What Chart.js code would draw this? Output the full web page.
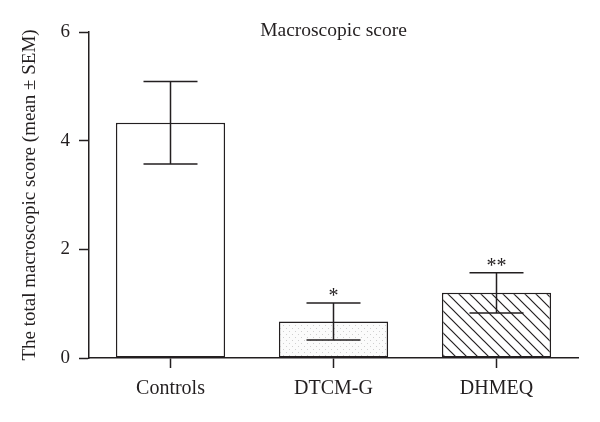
<!DOCTYPE html>
<html>
<head>
<meta charset="utf-8">
<script src="https://cdn.jsdelivr.net/npm/chart.js@4"></script>
<style>
  html, body { margin: 0; padding: 0; background: #fff; }
  #wrap { width: 600px; height: 422px; }
</style>
</head>
<body>
<div id="wrap"><canvas id="chart" width="600" height="422"></canvas></div>
<script>
// data
const groups = ['Controls', 'DTCM-G', 'DHMEQ'];
const meanScore = [4.33, 0.67, 1.2];
const semScore = [0.76, 0.34, 0.37];
const stars = ['', '*', '**'];
const yTicks = [0, 2, 4, 6];

const ink = '#231f20';
const serif = '"Liberation Serif", "DejaVu Serif", serif';

// light dotted fill
function dotPattern() {
    let c = document.createElement('canvas');
    c.width = 6; c.height = 6;
    let g = c.getContext('2d');
    g.fillStyle = '#fbfbfb';
    g.fillRect(0, 0, 6, 6);
    g.fillStyle = '#cfcfcf';
    g.fillRect(1, 1, 1, 1);
    g.fillRect(4, 4, 1, 1);
    return g.createPattern(c, 'repeat');
}

// diagonal hatching "\\\"
function hatchPattern() {
    let s = 11;
    let c = document.createElement('canvas');
    c.width = s; c.height = s;
    let g = c.getContext('2d');
    g.fillStyle = '#fff';
    g.fillRect(0, 0, s, s);
    g.strokeStyle = ink;
    g.lineWidth = 1.2;
    g.beginPath();
    g.moveTo(-1, -1); g.lineTo(s + 1, s + 1);
    g.moveTo(-1, s - 1); g.lineTo(1, s + 1);
    g.moveTo(s - 1, -1); g.lineTo(s + 1, 1);
    g.stroke();
    return g.createPattern(c, 'repeat');
}

// error bars, significance marks and the inner title
const extras = {
    id: 'extras',
    afterDatasetsDraw(chart) {
        let ctx = chart.ctx;
        let y = chart.scales.y;
        let meta = chart.getDatasetMeta(0);
        ctx.save();
        ctx.strokeStyle = ink;
        ctx.lineWidth = 1.5;
        meta.data.forEach((bar, i) => {
            let x = bar.x;
            let top = y.getPixelForValue(meanScore[i] + semScore[i]);
            let bot = y.getPixelForValue(meanScore[i] - semScore[i]);
            let half = 27;
            ctx.beginPath();
            ctx.moveTo(x, top); ctx.lineTo(x, bot);
            ctx.moveTo(x - half, top); ctx.lineTo(x + half, top);
            ctx.moveTo(x - half, bot); ctx.lineTo(x + half, bot);
            ctx.stroke();
            if (stars[i]) {
                ctx.fillStyle = ink;
                ctx.font = '20px ' + serif;
                ctx.textAlign = 'center';
                ctx.textBaseline = 'alphabetic';
                ctx.fillText(stars[i], x, top - 1);
            }
        });
        let area = chart.chartArea;
        ctx.fillStyle = ink;
        ctx.font = '19.5px ' + serif;
        ctx.textAlign = 'center';
        ctx.textBaseline = 'middle';
        ctx.fillText('Macroscopic score', (area.left + area.right) / 2, 31);
        ctx.restore();
    }
};

new Chart(document.getElementById('chart'), {
    type: 'bar',
    data: {
        labels: groups,
        datasets: [{
            data: meanScore,
            backgroundColor: ['#ffffff', dotPattern(), hatchPattern()],
            borderColor: ink,
            borderWidth: 1.5,
            borderSkipped: false,
            categoryPercentage: 1,
            barPercentage: 0.67
        }]
    },
    options: {
        responsive: false,
        animation: false,
        layout: { padding: { top: 32, right: 22, bottom: 0, left: 0 } },
        plugins: {
            legend: { display: false },
            tooltip: { enabled: false },
            title: { display: false }
        },
        scales: {
            x: {
                afterFit: s => { s.height = 64; },
                border: { display: true, color: ink, width: 1.5 },
                grid: {
                    offset: false,
                    drawOnChartArea: false,
                    drawTicks: true,
                    tickLength: 10,
                    tickColor: ink,
                    tickWidth: 1.5
                },
                ticks: {
                    color: ink,
                    padding: 9,
                    font: { family: serif, size: 20 }
                }
            },
            y: {
                min: 0,
                max: 6,
                afterFit: s => { s.width = 89; },
                afterBuildTicks: s => { s.ticks = yTicks.map(v => ({ value: v })); },
                border: { display: true, color: ink, width: 1.5 },
                grid: {
                    drawOnChartArea: false,
                    drawTicks: true,
                    tickLength: 10,
                    tickColor: ink,
                    tickWidth: 1.5
                },
                ticks: {
                    color: ink,
                    padding: 9,
                    font: { family: serif, size: 19 }
                },
                title: {
                    display: true,
                    text: 'The total macroscopic score (mean ± SEM)',
                    color: ink,
                    font: { family: serif, size: 19 },
                    padding: { top: 19, bottom: 0 }
                }
            }
        }
    },
    plugins: [extras]
});
</script>
</body>
</html>
